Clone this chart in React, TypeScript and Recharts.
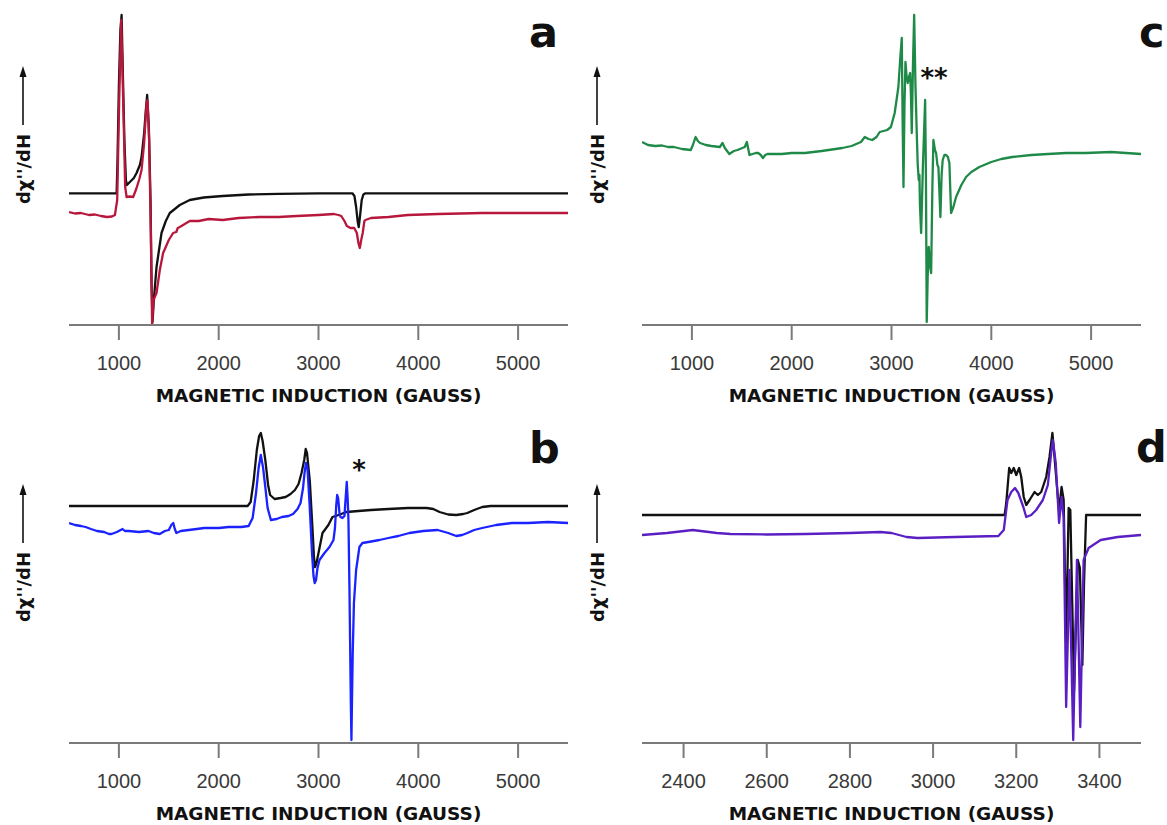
import React from 'react';
import { LineChart, Line, XAxis, YAxis } from 'recharts';

// ---------- shared labels / ticks ----------
const X_TITLE = 'MAGNETIC INDUCTION (GAUSS)';
const Y_TITLE = "dχ''/dH";
const TICKS_WIDE = [1000, 2000, 3000, 4000, 5000];
const TICKS_NARROW = [2400, 2600, 2800, 3000, 3200, 3400];
const DOMAIN_WIDE: [number, number] = [500, 5500];
const DOMAIN_NARROW: [number, number] = [2300, 3500];
const INTENSITY_DOMAIN: [number, number] = [0, 315];

// ---------- panel a : [field (G), intensity (arb.)] ----------
const aSimulated: [number, number][] = [
  [500, 131.7], [977, 131.7], [985, 160], [1000, 240], [1015, 295], [1027, 310], [1040, 250], [1055, 185],
  [1070, 145], [1080, 140], [1110, 143], [1150, 147], [1177, 152], [1210, 160], [1227, 168], [1253, 192],
  [1270, 215], [1283, 230], [1300, 198], [1317, 125], [1327, 42], [1337, 3], [1350, 25], [1377, 58],
  [1427, 92], [1470, 104], [1510, 112], [1610, 120], [1710, 125], [1850, 127.5], [2040, 129], [2300, 130.5],
  [2600, 131.2], [3000, 131.7], [3340, 131.7], [3360, 129], [3377, 118], [3392, 104], [3403, 98],
  [3415, 108], [3433, 125], [3450, 130.5], [3470, 131.7], [5500, 131.7],
];
const aExperimental: [number, number][] = [
  [500, 113], [560, 111.5], [620, 112], [700, 110], [760, 110.5], [820, 109], [880, 108], [930, 108.5],
  [960, 110], [983, 125], [1003, 225], [1023, 305], [1043, 225], [1063, 138], [1077, 128], [1110, 128.5],
  [1143, 128], [1177, 137], [1205, 146], [1227, 155], [1253, 182], [1277, 222], [1287, 225], [1303, 185],
  [1320, 92], [1333, 1], [1347, 25], [1377, 32], [1410, 55], [1443, 72], [1500, 85], [1543, 92],
  [1575, 93], [1590, 97], [1610, 98], [1660, 101], [1710, 104], [1800, 104], [1900, 106], [2040, 105],
  [2200, 107], [2411, 108], [2600, 108], [2783, 109], [3000, 110], [3154, 111], [3200, 110], [3228, 109],
  [3260, 104], [3284, 99], [3320, 97], [3358, 97], [3384, 92], [3400, 82], [3414, 77], [3428, 85],
  [3443, 92], [3460, 104], [3470, 105], [3526, 107], [3700, 108], [3897, 110], [4200, 111], [4640, 112],
  [5000, 112], [5500, 112],
];

// ---------- panel b ----------
const bSimulated: [number, number][] = [
  [500, 237], [2290, 237], [2320, 241], [2350, 262], [2382, 293], [2405, 307], [2422, 310], [2440, 302],
  [2467, 283], [2495, 258], [2515, 248], [2560, 244], [2620, 245], [2671, 246], [2720, 249], [2764, 253],
  [2800, 259], [2830, 270], [2857, 283], [2872, 294], [2885, 290], [2900, 275], [2913, 262], [2939, 216],
  [2955, 185], [2965, 176], [2980, 180], [3006, 193], [3040, 210], [3099, 218], [3140, 226], [3173, 227],
  [3280, 231], [3400, 232], [3526, 233], [3700, 234], [3897, 235], [4083, 235], [4150, 234], [4213, 231],
  [4300, 228.5], [4380, 228], [4450, 229], [4491, 230], [4560, 233], [4640, 236], [4725, 237], [4825, 237],
  [5500, 237],
];
const bExperimental: [number, number][] = [
  [500, 220], [560, 218], [620, 217], [666, 216], [720, 214], [780, 212], [852, 211], [900, 209],
  [926, 209], [980, 211], [1037, 214], [1060, 212], [1100, 212], [1200, 211], [1297, 212], [1350, 210],
  [1409, 209], [1460, 212], [1500, 213], [1525, 218], [1545, 220], [1560, 214], [1576, 210], [1620, 212],
  [1700, 213], [1780, 214], [1854, 215], [2000, 215], [2100, 216], [2226, 216], [2300, 217], [2340, 225],
  [2374, 250], [2400, 275], [2422, 288], [2445, 275], [2467, 256], [2490, 235], [2523, 223], [2580, 224],
  [2634, 226], [2700, 227], [2745, 229], [2790, 234], [2820, 240], [2845, 255], [2860, 270], [2875, 280],
  [2890, 274], [2910, 240], [2935, 190], [2950, 167], [2962, 160], [2975, 163], [2990, 175], [3010, 183],
  [3060, 190], [3110, 196], [3150, 203], [3165, 215], [3178, 238], [3187, 248], [3197, 245], [3210, 230],
  [3220, 226], [3240, 225], [3260, 227], [3272, 245], [3283, 261], [3292, 245], [3300, 223], [3310, 156],
  [3318, 90], [3324, 40], [3330, 3], [3336, 45], [3343, 90], [3355, 140], [3377, 173], [3410, 196],
  [3440, 200], [3500, 201], [3610, 203], [3700, 205], [3800, 207], [3910, 210], [4050, 212], [4194, 213],
  [4300, 210], [4380, 207], [4440, 208], [4491, 210], [4560, 213], [4640, 215], [4780, 218], [4937, 220],
  [5100, 220], [5300, 221], [5500, 220],
];

// ---------- panel c ----------
const cExperimental: [number, number][] = [
  [500, 183], [560, 180], [633, 179], [700, 179.5], [760, 178], [820, 178], [900, 176], [989, 175],
  [1010, 180], [1037, 188], [1060, 184], [1082, 182], [1140, 180], [1195, 179], [1280, 178], [1307, 182],
  [1330, 177], [1375, 171], [1420, 174], [1457, 175], [1530, 178], [1551, 183], [1565, 176], [1577, 170],
  [1640, 172], [1664, 172], [1690, 170], [1712, 167], [1735, 170], [1757, 171], [1900, 171], [2000, 172],
  [2132, 172], [2300, 174], [2507, 177], [2600, 179], [2694, 183], [2732, 188], [2770, 186], [2807, 185],
  [2850, 188], [2882, 193], [2957, 195], [2994, 198], [3032, 212], [3069, 238], [3090, 270], [3103, 287],
  [3112, 200], [3120, 138], [3130, 220], [3140, 263], [3150, 250], [3163, 242], [3175, 248], [3187, 252],
  [3195, 230], [3203, 192], [3215, 260], [3227, 310], [3240, 240], [3253, 192], [3263, 160], [3273, 145],
  [3280, 150], [3285, 120], [3297, 92], [3315, 160], [3337, 225], [3345, 150], [3353, 3], [3363, 50],
  [3373, 78], [3385, 60], [3397, 52], [3410, 140], [3420, 185], [3435, 175], [3447, 172], [3460, 160],
  [3470, 158], [3490, 108], [3502, 150], [3513, 165], [3530, 170], [3547, 170], [3565, 168], [3580, 162],
  [3597, 112], [3620, 118], [3647, 128], [3700, 140], [3747, 148], [3800, 153], [3880, 158], [4000, 163],
  [4100, 166], [4210, 168], [4400, 170], [4569, 171], [4750, 172], [4944, 172], [5200, 173], [5500, 171],
];

// ---------- panel d ----------
const dSimulated: [number, number][] = [
  [2300, 228], [3172, 228], [3176, 240], [3183, 275], [3188, 270], [3194, 275], [3200, 268], [3207, 275],
  [3212, 266], [3218, 246], [3224, 238], [3232, 243], [3244, 251], [3252, 248], [3260, 251], [3272, 266],
  [3280, 286], [3287, 310], [3292, 286], [3298, 256], [3303, 233], [3309, 256], [3314, 243], [3320, 100],
  [3326, 235], [3330, 233], [3339, 52], [3343, 110], [3348, 183], [3353, 175], [3359, 78], [3363, 160],
  [3368, 228], [3500, 228],
];
const dExperimental: [number, number][] = [
  [2300, 208], [2360, 210], [2422, 213], [2480, 210], [2513, 209], [2600, 208.5], [2693, 209], [2800, 210],
  [2873, 211], [2900, 210], [2936, 206], [2963, 205], [3053, 206], [3157, 207], [3170, 213], [3179, 243],
  [3188, 251], [3197, 255], [3205, 250], [3217, 236], [3224, 226], [3236, 228], [3248, 233], [3264, 243],
  [3276, 258], [3284, 290], [3288, 303], [3295, 280], [3303, 220], [3309, 246], [3314, 225], [3320, 36],
  [3328, 173], [3337, 3], [3346, 183], [3354, 16], [3362, 183], [3374, 195], [3403, 203], [3444, 206],
  [3500, 208],
];

// ---------- colours ----------
const BLACK = '#111111';
const RED = '#b8173c';
const BLUE = '#1a22ff';
const GREEN = '#1f8a48';
const PURPLE = '#5a1fc2';
const AXIS = '#7a7a7a';

type Series = { name: string; color: string; data: [number, number][] };

const toRows = (arr: [number, number][]) => arr.map(([x, y]) => ({ x, y }));

function Panel(props: {
  left: number;
  top: number;
  domain: [number, number];
  ticks: number[];
  series: Series[];
}) {
  const { left, top, domain, ticks, series } = props;
  return (
    <div style={{ position: 'absolute', left, top }}>
      <LineChart width={580} height={410} margin={{ top: 10, right: 12, bottom: 0, left: 69 }}>
        <XAxis
          type="number"
          dataKey="x"
          domain={domain}
          ticks={ticks}
          interval={0}
          allowDataOverflow
          height={85}
          tickSize={15}
          tickMargin={16}
          axisLine={{ stroke: AXIS, strokeWidth: 2 }}
          tickLine={{ stroke: AXIS, strokeWidth: 2 }}
          tick={{ fill: '#3a3a3a', fontSize: 20, fontFamily: 'Liberation Sans, Arial, sans-serif' }}
          label={{
            value: X_TITLE,
            position: 'insideBottom',
            offset: 8,
            fill: '#111',
            fontSize: 18.5,
            fontWeight: 'bold',
            fontFamily: 'DejaVu Sans, sans-serif',
          }}
        />
        <YAxis hide type="number" domain={INTENSITY_DOMAIN} allowDataOverflow />
        {series.map((s) => (
          <Line
            key={s.name}
            name={s.name}
            data={toRows(s.data)}
            dataKey="y"
            type="linear"
            stroke={s.color}
            strokeWidth={2.3}
            strokeLinejoin="round"
            dot={false}
            activeDot={false}
            isAnimationActive={false}
          />
        ))}
      </LineChart>
    </div>
  );
}

function YLabel({ x, top }: { x: number; top: number }) {
  return (
    <g>
      <text
        x={x}
        y={top + 169}
        transform={`rotate(-90 ${x} ${top + 169})`}
        textAnchor="middle"
        dominantBaseline="central"
        fontFamily="DejaVu Sans, sans-serif"
        fontWeight="bold"
        fontSize={18}
        fill="#111"
      >
        {Y_TITLE}
      </text>
      <line x1={x} y1={top + 125} x2={x} y2={top + 74} stroke="#111" strokeWidth={1.6} />
      <polygon points={`${x},${top + 66} ${x - 3.5},${top + 77} ${x + 3.5},${top + 77}`} fill="#111" />
    </g>
  );
}

const letterStyle = {
  fontFamily: 'DejaVu Sans, sans-serif',
  fontWeight: 'bold' as const,
  fontSize: 43,
  fill: '#111',
};
const starStyle = {
  fontFamily: 'DejaVu Sans, sans-serif',
  fontWeight: 'bold' as const,
  fontSize: 26,
  fill: '#111',
};

export default function App() {
  return (
    <div
      style={{
        position: 'absolute',
        left: 0,
        top: 0,
        width: 1167,
        height: 825,
        overflow: 'hidden',
        background: '#fff',
      }}
    >
      <Panel
        left={0}
        top={0}
        domain={DOMAIN_WIDE}
        ticks={TICKS_WIDE}
        series={[
          { name: 'a-sim', color: BLACK, data: aSimulated },
          { name: 'a-exp', color: RED, data: aExperimental },
        ]}
      />
      <Panel
        left={573}
        top={0}
        domain={DOMAIN_WIDE}
        ticks={TICKS_WIDE}
        series={[{ name: 'c-exp', color: GREEN, data: cExperimental }]}
      />
      <Panel
        left={0}
        top={418}
        domain={DOMAIN_WIDE}
        ticks={TICKS_WIDE}
        series={[
          { name: 'b-sim', color: BLACK, data: bSimulated },
          { name: 'b-exp', color: BLUE, data: bExperimental },
        ]}
      />
      <Panel
        left={573}
        top={418}
        domain={DOMAIN_NARROW}
        ticks={TICKS_NARROW}
        series={[
          { name: 'd-sim', color: BLACK, data: dSimulated },
          { name: 'd-exp', color: PURPLE, data: dExperimental },
        ]}
      />
      <svg
        width={1167}
        height={825}
        style={{ position: 'absolute', left: 0, top: 0, pointerEvents: 'none' }}
      >
        <YLabel x={23} top={0} />
        <YLabel x={23} top={418} />
        <YLabel x={597} top={0} />
        <YLabel x={597} top={418} />
        <text x={529} y={47} {...letterStyle}>a</text>
        <text x={529} y={463} {...letterStyle}>b</text>
        <text x={1139} y={47} {...letterStyle}>c</text>
        <text x={1136} y={462} {...letterStyle}>d</text>
        <text x={359} y={479} textAnchor="middle" {...starStyle}>*</text>
        <text x={934} y={87} textAnchor="middle" {...starStyle}>**</text>
      </svg>
    </div>
  );
}
